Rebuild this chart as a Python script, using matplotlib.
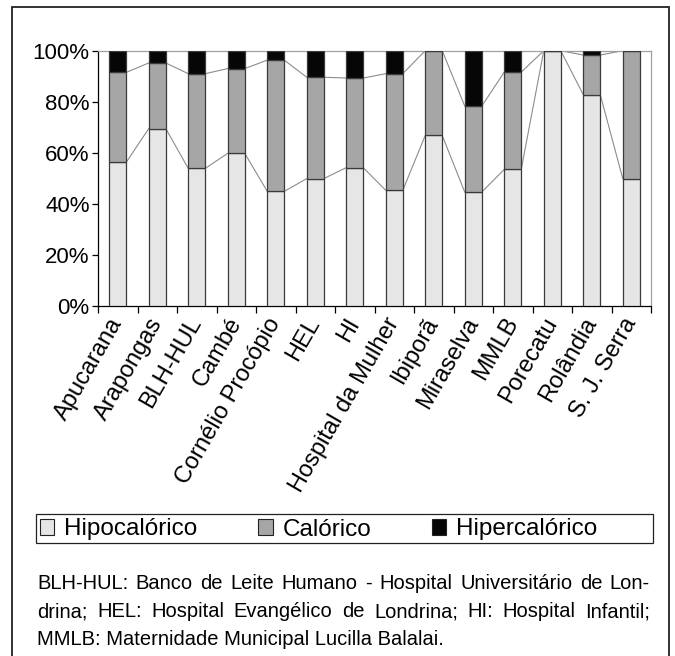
import matplotlib
matplotlib.use('Agg')
import matplotlib.pyplot as plt
from matplotlib.patches import Rectangle, Patch
import numpy as np

categories = ['Apucarana', 'Arapongas', 'BLH-HUL', 'Cambé', 'Cornélio Procópio', 'HEL', 'HI',
              'Hospital da Mulher', 'Ibiporã', 'Miraselva', 'MMLB', 'Porecatu', 'Rolândia', 'S. J. Serra']
hipocalorico = [56.3, 69.5, 53.9, 59.8, 44.9, 49.9, 54.2, 45.3, 66.8, 44.6, 53.5, 100.0, 82.8, 49.9]
calorico = [35.2, 25.7, 37.1, 33.2, 51.4, 39.7, 35.1, 45.7, 33.2, 33.7, 38.1, 0.0, 15.5, 50.1]
hipercalorico = [8.5, 4.8, 9.0, 7.0, 3.7, 10.4, 10.7, 9.0, 0.0, 21.7, 8.4, 0.0, 1.7, 0.0]
series_names = ['Hipocalórico', 'Calórico', 'Hipercalórico']
yticks = [0, 20, 40, 60, 80, 100]
footnote_lines = [
    'BLH-HUL: Banco de Leite Humano - Hospital Universitário de Lon-',
    'drina; HEL: Hospital Evangélico de Londrina; HI: Hospital Infantil;',
    'MMLB: Maternidade Municipal Lucilla Balalai.',
]

plt.rcParams['font.family'] = ['Liberation Sans', 'DejaVu Sans']

W, H = 675, 656
fig = plt.figure(figsize=(W / 100, H / 100), dpi=100)
ax = fig.add_axes([98 / W, 1 - 306 / H, (651 - 98) / W, (306 - 50.7) / H])

colors = ['#e6e6e6', '#a6a6a6', '#060606']
edge = '#3a3a3a'
bw = 0.43
x = np.arange(len(categories))
hipo = np.array(hipocalorico)
cal = np.array(calorico)
hip = np.array(hipercalorico)
ax.bar(x, hipo, bw, color=colors[0], edgecolor=edge, linewidth=0.9, zorder=3)
ax.bar(x, cal, bw, bottom=hipo, color=colors[1], edgecolor=edge, linewidth=0.9, zorder=3)
ax.bar(x, hip, bw, bottom=hipo + cal, color=colors[2], edgecolor=edge, linewidth=0.9, zorder=3)

# series lines
for level in (hipo, hipo + cal):
    for i in range(len(x) - 1):
        ax.plot([x[i] + bw / 2, x[i + 1] - bw / 2], [level[i], level[i + 1]],
                color='#8c8c8c', lw=0.8, zorder=2)

ax.set_xlim(-0.5, len(x) - 0.5)
ax.set_ylim(0, 100)
ax.set_yticks(yticks)
ax.set_yticklabels([f'{v}%' for v in yticks], fontsize=16)
ax.set_xticks(x)
ax.set_xticklabels(categories, fontsize=17, rotation=60, ha='right', va='center',
                   rotation_mode='anchor')
ax.set_xticks(np.arange(-0.5, len(x), 1), minor=True)
ax.tick_params(axis='x', which='major', length=0, pad=9.5)
ax.tick_params(axis='x', which='minor', length=5, width=0.9, color='black')
ax.tick_params(axis='y', length=4, width=0.9, pad=2, color='black')
for s in ('left', 'bottom'):
    ax.spines[s].set_color('black')
    ax.spines[s].set_linewidth(0.9)
for s in ('top', 'right'):
    ax.spines[s].set_color('#a0a0a0')
    ax.spines[s].set_linewidth(0.9)

# outer frame
fig.patches.append(Rectangle((12 / W, -0.05), (669 - 12) / W, 1 - 7 / H + 0.05,
                             transform=fig.transFigure, fill=False,
                             edgecolor='#222222', linewidth=1.3))

# legend box
fig.patches.append(Rectangle((36 / W, 1 - 543 / H), (653 - 36) / W, (543 - 514) / H,
                             transform=fig.transFigure, fill=False,
                             edgecolor='#222222', linewidth=0.9))
handles = [Patch(facecolor=c, edgecolor='#222222', linewidth=0.8) for c in colors]
leg = fig.legend(handles, series_names, loc='center left',
                 bbox_to_anchor=(36 / W, 1 - 529.5 / H),
                 ncol=3, fontsize=17.5, frameon=False,
                 borderpad=0, handlelength=0.6, handleheight=0.6,
                 handletextpad=0.4, borderaxespad=0.15, columnspacing=2.5)

# footnote, justified
renderer = fig.canvas.get_renderer()
fs = 14.5
x0, x1 = 37, 650
baselines = [589, 617, 645]
for li, (line, yb) in enumerate(zip(footnote_lines, baselines)):
    y = 1 - yb / H
    if li < 2:
        words = line.split(' ')
        texts = [fig.text(0, y, w, fontsize=fs, va='baseline', ha='left') for w in words]
        widths = [t.get_window_extent(renderer).width for t in texts]
        gap = (x1 - x0 - sum(widths)) / (len(words) - 1)
        pos = x0
        for t, w in zip(texts, widths):
            t.set_x(pos / W)
            pos += w + gap
    else:
        fig.text(x0 / W, y, line, fontsize=fs, va='baseline', ha='left')

fig.savefig('out.png', dpi=100)
